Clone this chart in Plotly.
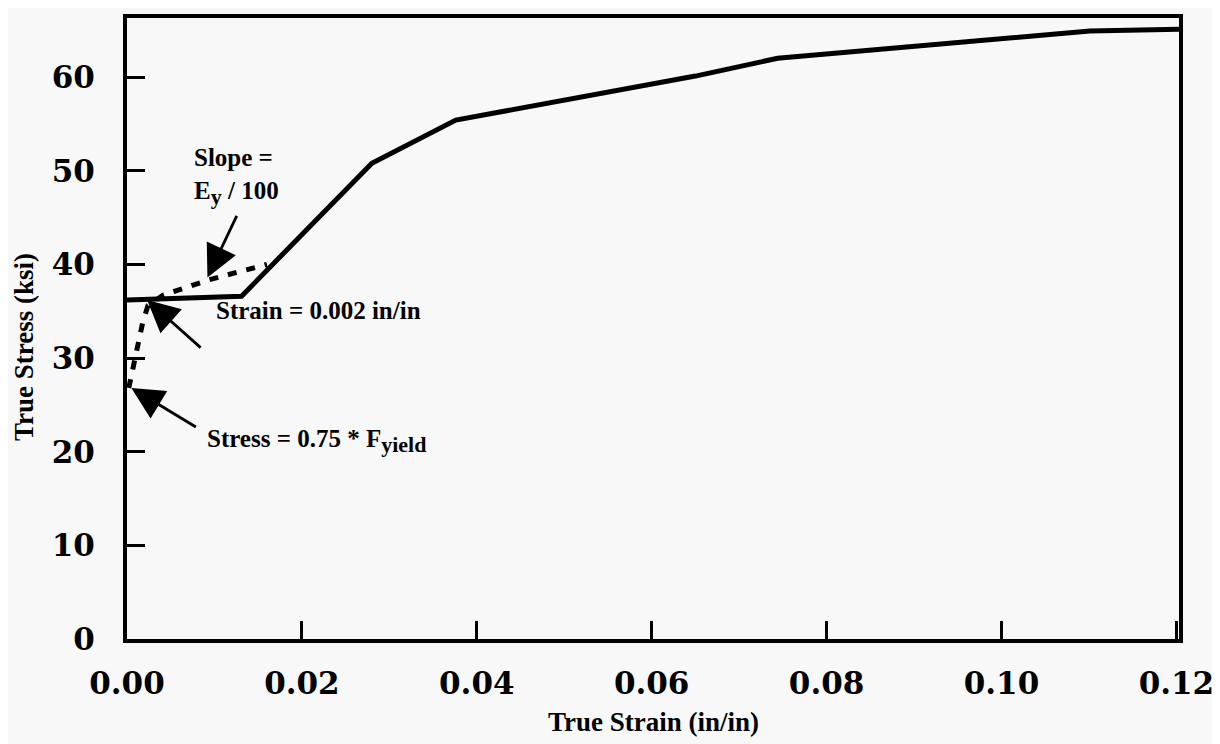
import plotly.graph_objects as go

# Solid true stress-strain curve
strain_solid = [0.0, 0.0131, 0.0280, 0.0376, 0.0650, 0.0744, 0.1101, 0.1203]
stress_solid = [36.2, 36.6, 50.8, 55.4, 60.1, 62.0, 64.9, 65.1]

# Dotted initial curve (0.75*Fy up to yield, slope Ey/100)
strain_dot = [0.0002, 0.0008, 0.0013, 0.0018, 0.0024, 0.0041, 0.0092, 0.0160]
stress_dot = [26.8, 29.5, 31.7, 33.8, 35.6, 36.7, 38.3, 40.0]

x_ticks = [0.00, 0.02, 0.04, 0.06, 0.08, 0.10, 0.12]
x_ticklabels = ["0.00", "0.02", "0.04", "0.06", "0.08", "0.10", "0.12"]
y_ticks = [0, 10, 20, 30, 40, 50, 60]
y_ticklabels = ["0", "10", "20", "30", "40", "50", "60"]

serif = "Liberation Serif, Times New Roman, serif"
tickfont = dict(family="DejaVu Serif, serif", size=31, color="black", weight="bold")

fig = go.Figure()
fig.add_trace(go.Scatter(x=strain_solid, y=stress_solid, mode="lines",
                         line=dict(color="black", width=5), showlegend=False))
fig.add_trace(go.Scatter(x=strain_dot, y=stress_dot, mode="lines",
                         line=dict(color="black", width=5, dash="9px,10px"), showlegend=False))

ann_font = dict(family=serif, size=25, color="black")
sub = "<span style='font-size:22px'>{}</span>"
annotations = [
    # texts
    dict(x=0.0074, y=49.4, xref="x", yref="y",
         text="<b>Slope =<br>E<sub>" + sub.format("y") + "</sub> / 100</b>",
         showarrow=False, xanchor="left", yanchor="middle", align="left", font=ann_font),
    dict(x=0.0100, y=35.1, xref="x", yref="y", text="<b>Strain = 0.002 in/in</b>",
         showarrow=False, xanchor="left", yanchor="middle", font=ann_font),
    dict(x=0.0089, y=21.1, xref="x", yref="y",
         text="<b>Stress = 0.75 * F<sub>" + sub.format("yield") + "</sub></b>",
         showarrow=False, xanchor="left", yanchor="middle", font=ann_font),
    # arrows
    dict(x=0.0092, y=38.6, xref="x", yref="y", text="", showarrow=True,
         ax=30, ay=-63, arrowhead=2, arrowsize=2.3, arrowwidth=2.8, arrowcolor="black"),
    dict(x=0.0023, y=36.2, xref="x", yref="y", text="", showarrow=True,
         ax=55, ay=49, arrowhead=2, arrowsize=2.3, arrowwidth=2.8, arrowcolor="black"),
    dict(x=0.0005, y=26.8, xref="x", yref="y", text="", showarrow=True,
         ax=66, ay=40, arrowhead=2, arrowsize=2.3, arrowwidth=2.8, arrowcolor="black"),
    # axis titles
    dict(x=0.5, y=-0.133, xref="paper", yref="paper", text="<b>True Strain (in/in)</b>",
         showarrow=False, xanchor="center", yanchor="middle",
         font=dict(family=serif, size=27, color="black")),
    dict(x=-0.098, y=0.47, xref="paper", yref="paper", text="<b>True Stress (ksi)</b>",
         showarrow=False, xanchor="center", yanchor="middle", textangle=-90,
         font=dict(family=serif, size=27, color="black")),
]

fig.update_layout(
    width=1212, height=736,
    margin=dict(l=119, r=37, t=6, b=105),
    paper_bgcolor="#f8f8f8", plot_bgcolor="#f8f8f8",
    annotations=annotations,
    showlegend=False,
)
fig.update_xaxes(range=[0, 0.1203], tickvals=x_ticks, ticktext=x_ticklabels,
                 ticks="inside", ticklen=18, tickwidth=3, tickcolor="black",
                 showline=True, linewidth=4, linecolor="black", mirror=True,
                 showgrid=False, zeroline=False, tickfont=tickfont, ticklabelstandoff=14)
fig.update_yaxes(range=[0, 66.3], tickvals=y_ticks, ticktext=y_ticklabels,
                 ticks="inside", ticklen=18, tickwidth=3, tickcolor="black",
                 showline=True, linewidth=4, linecolor="black", mirror=True,
                 showgrid=False, zeroline=False, tickfont=tickfont, ticklabelstandoff=22)

fig.write_html("out.html")
